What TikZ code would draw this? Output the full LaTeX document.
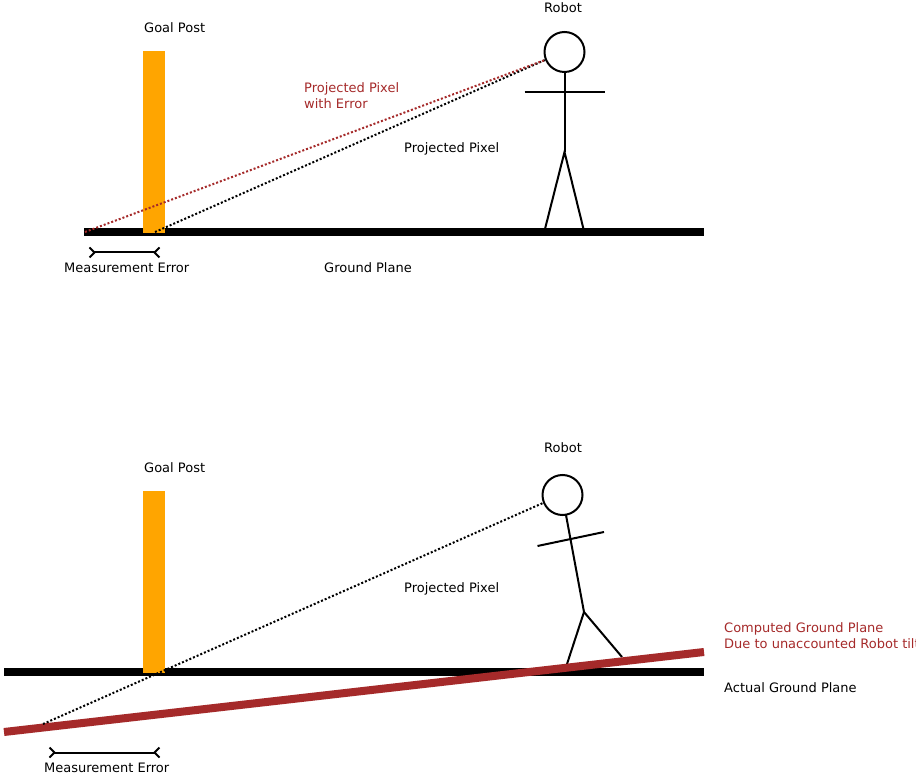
\documentclass[tikz,border=0pt]{standalone}
\usepackage{fontspec}
\setmainfont{DejaVu Sans}
\definecolor{post}{HTML}{FFA500}
\definecolor{err}{HTML}{A52A2A}
\tikzset{
  lbl/.style={anchor=base west,inner sep=0pt,font=\fontsize{13}{16}\selectfont,align=left},
  errlbl/.style={lbl,text=err},
  stick/.style={draw=black,line width=2pt},
  ground/.style={draw=black,line width=8pt},
  tilted/.style={draw=err,line width=8pt},
  ray/.style={draw=black,line width=2pt,dash pattern=on 2pt off 2pt},
  errray/.style={draw=err,line width=2pt,dash pattern=on 2pt off 2pt},
  span/.style={draw=black,line width=2pt},
  chev/.style={draw=black,line width=2pt},
  postbar/.style={fill=post,draw=none,minimum width=22pt,inner sep=0pt,anchor=north west}
}
\begin{document}
\begin{tikzpicture}[x=1pt,y=-1pt]
\useasboundingbox (0,0) rectangle (916,775);
% --- top panel ---
\coordinate (g1a) at (84,232); \coordinate (g1b) at (704,232);
\draw[ground] (g1a) -- (g1b);
\node[postbar,minimum height=182pt] (post1) at (143,51) {};
\node[lbl] (goal1) at (144,32.5) {Goal Post};
\node[lbl] (robot1) at (544,12.5) {Robot};
\node[errlbl] (perr) at (304,92.5) {Projected Pixel};
\node[errlbl] (perr2) at (304,108.5) {with Error};
\node[lbl] (pp1) at (404,152.5) {Projected Pixel};
\node[lbl] (me1) at (64,272.5) {Measurement Error};
\node[lbl] (gp) at (324,272.5) {Ground Plane};
\node[circle,stick,minimum size=40pt,inner sep=0pt] (head1) at (564.5,52) {};
\coordinate (hip1) at (564.5,152); \coordinate (neck1) at (564.5,92);
\coordinate (armL1) at (524.5,92); \coordinate (armR1) at (604.5,92);
\coordinate (footL1) at (545,229); \coordinate (footR1) at (583.5,229);
\draw[stick] (head1.south) -- (hip1);
\draw[stick] (armL1) -- (armR1);
\draw[stick] (footL1) -- (hip1) -- (footR1);
\coordinate (hit1) at (155,232); \coordinate (hit2) at (85,232);
\coordinate (eye1) at (545,60);
\draw[ray] (hit1) -- (eye1);
\draw[errray] (hit2) -- (eye1);
\coordinate (s1a) at (94,252.5); \coordinate (s1b) at (155,252.5);
\draw[span] (s1a) -- (s1b);
\draw[chev] (89.5,247.5) -- (94.5,252.5) -- (89.5,257.5);
\draw[chev] (159.5,247.5) -- (154.5,252.5) -- (159.5,257.5);
% --- bottom panel ---
\coordinate (g2a) at (4,672); \coordinate (g2b) at (704,672);
\draw[ground] (g2a) -- (g2b);
\node[postbar,minimum height=182pt] (post2) at (143,491) {};
\node[lbl] (goal2) at (144,472.5) {Goal Post};
\node[lbl] (robot2) at (544,452.5) {Robot};
\node[lbl] (pp2) at (404,592.5) {Projected Pixel};
\node[lbl] (me2) at (44,772.5) {Measurement Error};
\node[errlbl] (cg1) at (724,632.5) {Computed Ground Plane};
\node[errlbl] (cg2) at (724,648.5) {Due to unaccounted Robot tilt};
\node[lbl] (ag) at (724,692.5) {Actual Ground Plane};
\node[circle,stick,minimum size=40pt,inner sep=0pt] (head2) at (562.5,495) {};
\coordinate (neck2) at (566,515); \coordinate (hip2) at (584,612);
\coordinate (armL2) at (537.5,546); \coordinate (armR2) at (604,532);
\coordinate (footL2) at (567,664); \coordinate (footR2) at (622,657);
\draw[stick] (neck2) -- (hip2);
\draw[stick] (armL2) -- (armR2);
\draw[stick] (footL2) -- (hip2) -- (footR2);
\coordinate (t2a) at (4,732); \coordinate (t2b) at (704,652);
\draw[tilted] (t2a) -- (t2b);
\coordinate (eye2) at (543,503); \coordinate (hit3) at (43,724);
\draw[ray] (hit3) -- (eye2);
\coordinate (s2a) at (54,752.5); \coordinate (s2b) at (155,752.5);
\draw[span] (s2a) -- (s2b);
\draw[chev] (49.5,747.5) -- (54.5,752.5) -- (49.5,757.5);
\draw[chev] (159.5,747.5) -- (154.5,752.5) -- (159.5,757.5);
\end{tikzpicture}
\end{document}
